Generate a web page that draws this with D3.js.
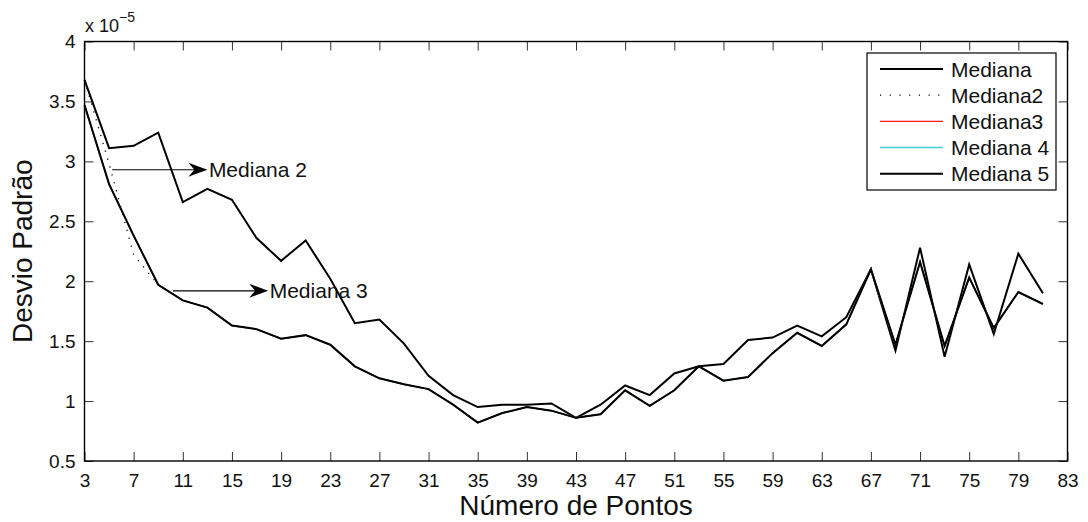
<!DOCTYPE html>
<html>
<head>
<meta charset="utf-8">
<script src="https://cdn.jsdelivr.net/npm/d3@7/dist/d3.min.js"></script>
<style>
  body { margin: 0; background: #fff; }
  svg { display: block; font-family: "Liberation Sans", Arial, Helvetica, sans-serif; }
</style>
</head>
<body>
<svg></svg>
<script>
var width = 1088;
var height = 522;

// numero de pontos (x)
var pontos = [3, 5, 7, 9, 11, 13, 15, 17, 19, 21, 23, 25, 27, 29, 31, 33, 35, 37, 39, 41,
              43, 45, 47, 49, 51, 53, 55, 57, 59, 61, 63, 65, 67, 69, 71, 73, 75, 77, 79, 81];

// desvio padrao, em unidades de 1e-5
var mediana = [3.68, 3.11, 3.13, 3.24, 2.66, 2.77, 2.68, 2.36, 2.17, 2.34,
               2.02, 1.65, 1.68, 1.48, 1.21, 1.05, 0.95, 0.97, 0.97, 0.98,
               0.86, 0.97, 1.13, 1.05, 1.23, 1.29, 1.31, 1.51, 1.53, 1.63,
               1.54, 1.70, 2.10, 1.42, 2.28, 1.37, 2.14, 1.56, 2.23, 1.90];

var mediana5 = [3.47, 2.81, 2.38, 1.97, 1.84, 1.78, 1.63, 1.60, 1.52, 1.55,
                1.47, 1.29, 1.19, 1.14, 1.10, 0.97, 0.82, 0.90, 0.95, 0.92,
                0.86, 0.89, 1.09, 0.96, 1.09, 1.29, 1.17, 1.20, 1.40, 1.57,
                1.46, 1.64, 2.10, 1.47, 2.16, 1.46, 2.03, 1.61, 1.91, 1.81];

var mediana2 = [3.68, 2.98, 2.22, 1.97, 1.84, 1.78, 1.63, 1.60, 1.52, 1.55,
                1.47, 1.29, 1.19, 1.14, 1.10, 0.97, 0.82, 0.90, 0.95, 0.92,
                0.86, 0.89, 1.09, 0.96, 1.09, 1.29, 1.17, 1.20, 1.40, 1.57,
                1.46, 1.64, 2.10, 1.47, 2.16, 1.46, 2.03, 1.61, 1.91, 1.81];

var mediana3 = mediana5.slice();
var mediana4 = mediana5.slice();

var xTicks = [3, 7, 11, 15, 19, 23, 27, 31, 35, 39, 43, 47, 51, 55, 59, 63, 67, 71, 75, 79, 83];
var yTicks = [0.5, 1, 1.5, 2, 2.5, 3, 3.5, 4];

var seriesNames = ['Mediana', 'Mediana2', 'Mediana3', 'Mediana 4', 'Mediana 5'];

var margin = {top: 41.5, right: 20.5, bottom: 61, left: 84.5};
var plotW = width - margin.left - margin.right;
var plotH = height - margin.top - margin.bottom;

var svg = d3.select('svg')
    .attr('width', width)
    .attr('height', height);

var x = d3.scaleLinear().domain([3, 83]).range([0, plotW]);
var y = d3.scaleLinear().domain([0.5, 4]).range([plotH, 0]);

var g = svg.append('g')
    .attr('transform', 'translate(' + margin.left + ',' + margin.top + ')');

// axes: ticks inside the box, on all four sides
var fmt = function(d) { return d3.format('')(d); };

var xBottom = g.append('g')
    .attr('transform', 'translate(0,' + plotH + ')')
    .call(d3.axisBottom(x).tickValues(xTicks).tickSizeInner(-9).tickSizeOuter(0).tickPadding(13).tickFormat(fmt));
var xTop = g.append('g')
    .call(d3.axisTop(x).tickValues(xTicks).tickSizeInner(-9).tickSizeOuter(0).tickFormat(''));
var yLeft = g.append('g')
    .call(d3.axisLeft(y).tickValues(yTicks).tickSizeInner(-9).tickSizeOuter(0).tickPadding(9).tickFormat(fmt));
var yRight = g.append('g')
    .attr('transform', 'translate(' + plotW + ',0)')
    .call(d3.axisRight(y).tickValues(yTicks).tickSizeInner(-9).tickSizeOuter(0).tickFormat(''));

[xBottom, xTop, yLeft, yRight].forEach(function(a) {
    a.select('.domain').remove();
    a.selectAll('line').attr('stroke', '#333').attr('stroke-width', 1);
    a.selectAll('text').attr('fill', '#111').attr('font-size', 19)
        .attr('font-family', '"Liberation Sans", Arial, Helvetica, sans-serif');
});
xBottom.selectAll('text').attr('dy', '0.71em');

g.append('rect')
    .attr('width', plotW)
    .attr('height', plotH)
    .attr('fill', 'none')
    .attr('stroke', '#000')
    .attr('stroke-width', 1.4);

// series
var line = d3.line()
    .x(function(d, i) { return x(pontos[i]); })
    .y(function(d) { return y(d); });

var series = [
    {name: seriesNames[0], values: mediana,  color: '#000', w: 2,   dash: null},
    {name: seriesNames[1], values: mediana2, color: '#000', w: 1.3, dash: '1.2,7'},
    {name: seriesNames[2], values: mediana3, color: '#ff1a1a', w: 1.3, dash: null},
    {name: seriesNames[3], values: mediana4, color: '#3fd0d0', w: 1.5, dash: null},
    {name: seriesNames[4], values: mediana5, color: '#000', w: 2,   dash: null}
];

g.append('g')
    .selectAll('path')
    .data(series)
    .enter().append('path')
    .attr('d', function(d) { return line(d.values); })
    .attr('fill', 'none')
    .attr('stroke', function(d) { return d.color; })
    .attr('stroke-width', function(d) { return d.w; })
    .attr('stroke-dasharray', function(d) { return d.dash; })
    .attr('stroke-linejoin', 'miter');

// annotations with arrows
var notes = [
    {text: 'Mediana 2', x0: 5.25, x1: 13.0, v: 2.93},
    {text: 'Mediana 3', x0: 10.2, x1: 17.95, v: 1.92}
];

var ann = g.append('g').selectAll('g').data(notes).enter().append('g');

ann.append('line')
    .attr('x1', function(d) { return x(d.x0); })
    .attr('x2', function(d) { return x(d.x1) - 12; })
    .attr('y1', function(d) { return y(d.v); })
    .attr('y2', function(d) { return y(d.v); })
    .attr('stroke', '#000')
    .attr('stroke-width', 1.2);

ann.append('path')
    .attr('d', function(d) {
        var tx = x(d.x1), ty = y(d.v);
        return 'M' + tx + ',' + ty +
               'L' + (tx - 19) + ',' + (ty - 7) +
               'L' + (tx - 13) + ',' + ty +
               'L' + (tx - 19) + ',' + (ty + 7) + 'Z';
    })
    .attr('fill', '#000');

ann.append('text')
    .attr('x', function(d) { return x(d.x1) + 1.5; })
    .attr('y', function(d) { return y(d.v) + 7.5; })
    .attr('font-size', 21)
    .attr('fill', '#111')
    .text(function(d) { return d.text; });

// legend
var legend = svg.append('g').attr('transform', 'translate(867,53)');

legend.append('rect')
    .attr('width', 189)
    .attr('height', 137)
    .attr('fill', '#fff')
    .attr('stroke', '#000')
    .attr('stroke-width', 1.2);

var item = legend.selectAll('.item')
    .data(series)
    .enter().append('g')
    .attr('class', 'item')
    .attr('transform', function(d, i) { return 'translate(0,' + (16 + i * 26.2) + ')'; });

item.append('line')
    .attr('x1', 13).attr('x2', 76)
    .attr('stroke', function(d) { return d.color; })
    .attr('stroke-width', function(d) { return d.w; })
    .attr('stroke-dasharray', function(d) { return d.dash ? '1.2,8.5' : null; });

item.append('text')
    .attr('x', 84)
    .attr('y', 7.5)
    .attr('font-size', 21)
    .attr('fill', '#111')
    .text(function(d) { return d.name; });

// exponent label
var expo = svg.append('text')
    .attr('x', 85)
    .attr('y', 32)
    .attr('font-size', 18)
    .attr('fill', '#111');
expo.append('tspan').text('x 10');
expo.append('tspan').attr('dy', -10).attr('font-size', 14).text('\u22125');

// axis titles
svg.append('text')
    .attr('x', margin.left + plotW / 2)
    .attr('y', 515)
    .attr('text-anchor', 'middle')
    .attr('font-size', 28)
    .attr('fill', '#111')
    .text('Número de Pontos');

svg.append('text')
    .attr('transform', 'translate(32,' + (margin.top + plotH / 2) + ') rotate(-90)')
    .attr('text-anchor', 'middle')
    .attr('font-size', 28)
    .attr('fill', '#111')
    .text('Desvio Padrão');
</script>
</body>
</html>
